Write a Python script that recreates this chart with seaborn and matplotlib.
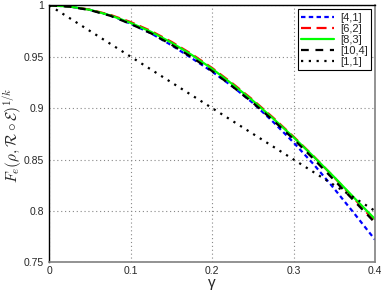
import matplotlib
matplotlib.use("Agg")
import matplotlib.pyplot as plt
import seaborn as sns
import pandas as pd

gamma = [0.0, 0.025, 0.05, 0.075, 0.1, 0.125, 0.15, 0.175, 0.2, 0.225, 0.25,
         0.275, 0.3, 0.325, 0.35, 0.375, 0.4]
f_4_1 = [1.0, 0.9988, 0.9955, 0.9902, 0.9820, 0.9727, 0.9612, 0.9485, 0.9355,
         0.9210, 0.9050, 0.8865, 0.8665, 0.8450, 0.8215, 0.7970, 0.7720]
f_6_2 = [1.0, 0.9989, 0.9958, 0.9907, 0.9837, 0.9750, 0.9645, 0.9525, 0.9390,
         0.9240, 0.9080, 0.8906, 0.8722, 0.8528, 0.8325, 0.8114, 0.7895]
f_8_3 = [1.0, 0.9988, 0.9956, 0.9902, 0.9829, 0.9742, 0.9637, 0.9517, 0.9382,
         0.9232, 0.9072, 0.8898, 0.8716, 0.8525, 0.8328, 0.8122, 0.7920]
f_10_4 = [1.0, 0.9987, 0.9953, 0.9898, 0.9818, 0.9727, 0.9617, 0.9495, 0.9360,
          0.9210, 0.9052, 0.8880, 0.8698, 0.8502, 0.8298, 0.8092, 0.7885]
f_1_1 = [1.0, 0.9875, 0.975, 0.9625, 0.95, 0.9375, 0.925, 0.9125, 0.9,
         0.8875, 0.875, 0.8625, 0.85, 0.8375, 0.825, 0.8125, 0.8]
labels = ["[4,1]", "[6,2]", "[8,3]", "[10,4]", "[1,1]"]
x_ticks = [0, 0.1, 0.2, 0.3, 0.4]
x_ticklabels = ["0", "0.1", "0.2", "0.3", "0.4"]
y_ticks = [0.75, 0.8, 0.85, 0.9, 0.95, 1.0]
y_ticklabels = ["0.75", "0.8", "0.85", "0.9", "0.95", "1"]

sns.set_style("white")
plt.rcParams['font.family'] = ['Liberation Sans', 'DejaVu Sans']
plt.rcParams['mathtext.fontset'] = 'cm'

series = [f_4_1, f_6_2, f_8_3, f_10_4, f_1_1]
colors = ["#0000ff", "#ff0000", "#00ff00", "#000000", "#000000"]
styles = [(0, (2.0, 1.5)), (0, (4.5, 2.5)), "-", (0, (3.5, 3.0)), (0, (1.0, 2.5))]

fig = plt.figure(figsize=(3.81, 2.90), dpi=100)
ax = fig.add_axes([0.1294, 0.0955, 0.9843 - 0.1294, 0.9817 - 0.0955])

for vals, lab, col, ls in zip(series, labels, colors, styles):
    df = pd.DataFrame({"gamma": gamma, "F": vals})
    sns.lineplot(data=df, x="gamma", y="F", ax=ax, color=col, linestyle=ls,
                 linewidth=1.6, label=lab)

ax.set_xlim(0, 0.4)
ax.set_ylim(0.75, 1.0)
ax.set_xticks(x_ticks)
ax.set_xticklabels(x_ticklabels)
ax.set_yticks(y_ticks)
ax.set_yticklabels(y_ticklabels)
ax.tick_params(axis="both", direction="in", length=3, labelsize=7.5,
               color="#555555")
ax.tick_params(axis="y", pad=4)
ax.tick_params(axis="x", pad=3)
ax.grid(True, color="#888888", linestyle=(0, (1, 2.5)), linewidth=0.8)
for side in ["top", "left"]:
    ax.spines[side].set_color("black")
    ax.spines[side].set_linewidth(1.0)
for side in ["bottom", "right"]:
    ax.spines[side].set_color("#808080")
    ax.spines[side].set_linewidth(1.2)

ax.set_xlabel("γ", fontsize=11)
ax.xaxis.set_label_coords(0.5, -0.055)
ax.xaxis.label.set_va("top")
ax.set_ylabel(r"$F_e(\rho,\mathcal{R}\circ\mathcal{E})^{1/k}$", fontsize=11, labelpad=0)
ax.yaxis.set_label_coords(-0.078, 0.495)

leg = ax.legend(loc="upper right", fontsize=8, frameon=True, fancybox=False,
                edgecolor="black", framealpha=1, handlelength=3.0,
                borderpad=0.3, labelspacing=0.1, handletextpad=0.5,
                borderaxespad=0.35)
leg.get_frame().set_linewidth(0.8)

fig.savefig("out.png", dpi=100)
